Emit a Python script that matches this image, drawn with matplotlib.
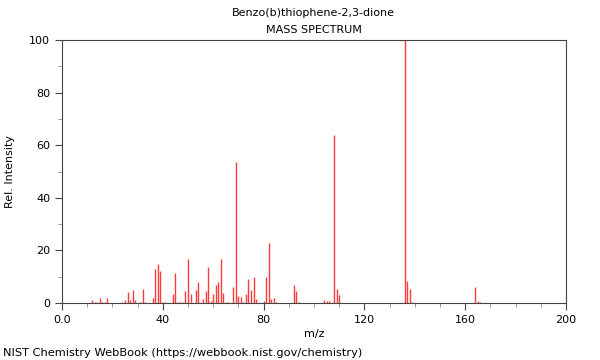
import numpy as np
import matplotlib
matplotlib.use("Agg")
import matplotlib.pyplot as plt
from matplotlib.ticker import MultipleLocator

TITLE = "Benzo(b)thiophene-2,3-dione"
SUBTITLE = "MASS SPECTRUM"
FOOTER = "NIST Chemistry WebBook (https://webbook.nist.gov/chemistry)"

# m/z and relative intensity
mz = [12, 13, 14, 15, 16, 17, 18, 24, 25, 26, 27, 28, 29, 31, 32, 33,
      36, 37, 38, 39, 40, 41, 44, 45, 46, 47, 48, 49, 50, 51, 53, 54,
      56, 57, 58, 59, 60, 61, 62, 63, 64, 65, 66, 68, 69, 70, 71, 72,
      73, 74, 75, 76, 77, 80, 81, 82, 83, 84, 85, 92, 93, 94, 104, 105,
      106, 108, 109, 110, 136, 137, 138, 139, 164, 165, 166]
intensity = [1.1, 0.4, 0.4, 2.0, 0.5, 0.5, 1.8, 0.5, 1.1, 4.2, 1.1, 5.0, 1.1, 0.5, 5.3, 0.5,
             1.8, 12.8, 14.8, 12.3, 0.5, 0.5, 3.4, 11.3, 0.5, 0.5, 0.5, 4.7, 16.7, 3.4, 4.9, 8.1,
             1.4, 4.4, 13.8, 0.9, 3.4, 6.8, 7.8, 16.6, 3.7, 0.5, 0.5, 6.2, 53.5, 2.8, 2.3, 0.5,
             3.4, 9.1, 4.9, 10.0, 1.5, 0.8, 9.7, 22.9, 1.5, 2.0, 0.4, 6.8, 4.6, 0.4, 1.0, 0.8,
             0.6, 64.0, 5.2, 3.0, 100.0, 8.4, 5.3, 0.5, 6.2, 0.8, 0.4]

xticks = [0, 40, 80, 120, 160, 200]
xtick_labels = ["0.0", "40", "80", "120", "160", "200"]
yticks = [0, 20, 40, 60, 80, 100]

plt.rcParams.update({"font.family": "DejaVu Sans", "font.size": 8})

fig = plt.figure(figsize=(6, 3.6), dpi=100)
ax = fig.add_axes([0.1033, 0.1583, 0.84, 0.7306])

ax.vlines(mz, 0, intensity, color="#ff3a3a", lw=1.0)

ax.set_xlim(0, 200)
ax.set_ylim(0, 100)
ax.set_xticks(xticks, xtick_labels)
ax.set_yticks(yticks)
ax.xaxis.set_minor_locator(MultipleLocator(10))
ax.yaxis.set_minor_locator(MultipleLocator(10))
ax.tick_params(which="major", length=5, width=0.8, color="#444444")
ax.tick_params(which="minor", length=3, width=0.6, color="#888888")
for s in ax.spines.values():
    s.set_color("#444444")
    s.set_linewidth(0.8)

ax.set_xlabel("m/z", labelpad=3)
ax.set_ylabel("Rel. Intensity", labelpad=10)

fig.text(0.523, 0.963, TITLE, ha="center", va="center", fontsize=8)
fig.text(0.523, 0.916, SUBTITLE, ha="center", va="center", fontsize=8)
fig.text(0.005, 0.02, FOOTER, ha="left", va="center", fontsize=8.2)

fig.savefig("out.png", dpi=100)
